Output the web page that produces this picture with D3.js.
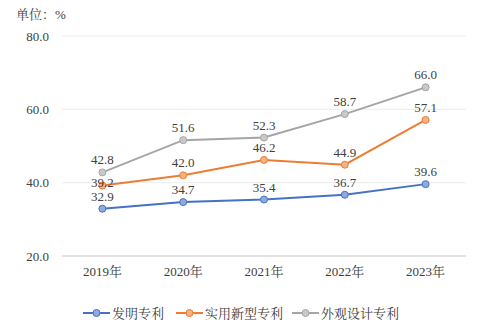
<!DOCTYPE html>
<html><head><meta charset="utf-8">
<script src="https://cdn.jsdelivr.net/npm/d3@7/dist/d3.min.js"></script>
<style>body{margin:0;background:#fff}svg text{font-family:"Liberation Serif","Times New Roman","Noto Serif CJK SC","Noto Sans CJK SC",serif;fill:#404040}</style>
</head><body><svg id="c" width="500" height="329"></svg>
<script>
const categories = ["2019年","2020年","2021年","2022年","2023年"];
const invention = [32.9,34.7,35.4,36.7,39.6];
const utility = [39.2,42.0,46.2,44.9,57.1];
const design = [42.8,51.6,52.3,58.7,66.0];
const seriesNames = ["发明专利","实用新型专利","外观设计专利"];
const yTicks = [20,40,60,80];
const colors = ["#4472C4","#ED7D31","#A5A5A5"];
const fills = ["#8FAADC","#F4B183","#C9C9C9"];

const svg = d3.select("#c");
const x = d3.scaleBand().domain(categories).range([62,466]);
const y = d3.scaleLinear().domain([20,80]).range([256,36]);

svg.append("g").selectAll("line").data(yTicks).join("line")
  .attr("x1",62).attr("x2",466).attr("y1",d=>y(d)).attr("y2",d=>y(d))
  .attr("stroke",d=>d===20?"#d9d9d9":"#ececec").attr("stroke-width",d=>d===20?1.5:1);

svg.append("g").selectAll("text").data(yTicks).join("text")
  .attr("x",49).attr("y",d=>y(d)+4.5).attr("text-anchor","end").attr("font-size",13)
  .text(d=>d.toFixed(1));

svg.append("text").attr("x",16).attr("y",19).attr("font-size",13).text("单位：%");

svg.append("g").selectAll("text").data(categories).join("text")
  .attr("x",d=>x(d)+x.bandwidth()/2).attr("y",276).attr("text-anchor","middle").attr("font-size",13)
  .text(d=>d);

const all = [invention,utility,design];
const line = d3.line().x((d,i)=>x(categories[i])+x.bandwidth()/2).y(d=>y(d));
all.forEach((s,k)=>{
  svg.append("path").attr("d",line(s)).attr("fill","none").attr("stroke",colors[k]).attr("stroke-width",2);
  svg.append("g").selectAll("circle").data(s).join("circle")
    .attr("cx",(d,i)=>x(categories[i])+x.bandwidth()/2).attr("cy",d=>y(d)).attr("r",3.5)
    .attr("fill",fills[k]).attr("stroke",colors[k]).attr("stroke-width",1);
});
all.forEach((s,k)=>{
  svg.append("g").selectAll("text").data(s).join("text")
    .attr("x",(d,i)=>x(categories[i])+x.bandwidth()/2)
    .attr("y",(d,i)=>(k===1&&i===0)?y(d)+1.5:y(d)-8)
    .attr("text-anchor","middle").attr("font-size",13).text(d=>d.toFixed(1));
});

const legX = [83,176,292];
seriesNames.forEach((n,k)=>{
  const g = svg.append("g");
  g.append("line").attr("x1",legX[k]).attr("x2",legX[k]+27).attr("y1",313).attr("y2",313)
    .attr("stroke",colors[k]).attr("stroke-width",2);
  g.append("circle").attr("cx",legX[k]+13.5).attr("cy",313).attr("r",3.5)
    .attr("fill",fills[k]).attr("stroke",colors[k]);
  g.append("text").attr("x",legX[k]+29).attr("y",318).attr("font-size",13).text(n);
});
</script></body></html>
